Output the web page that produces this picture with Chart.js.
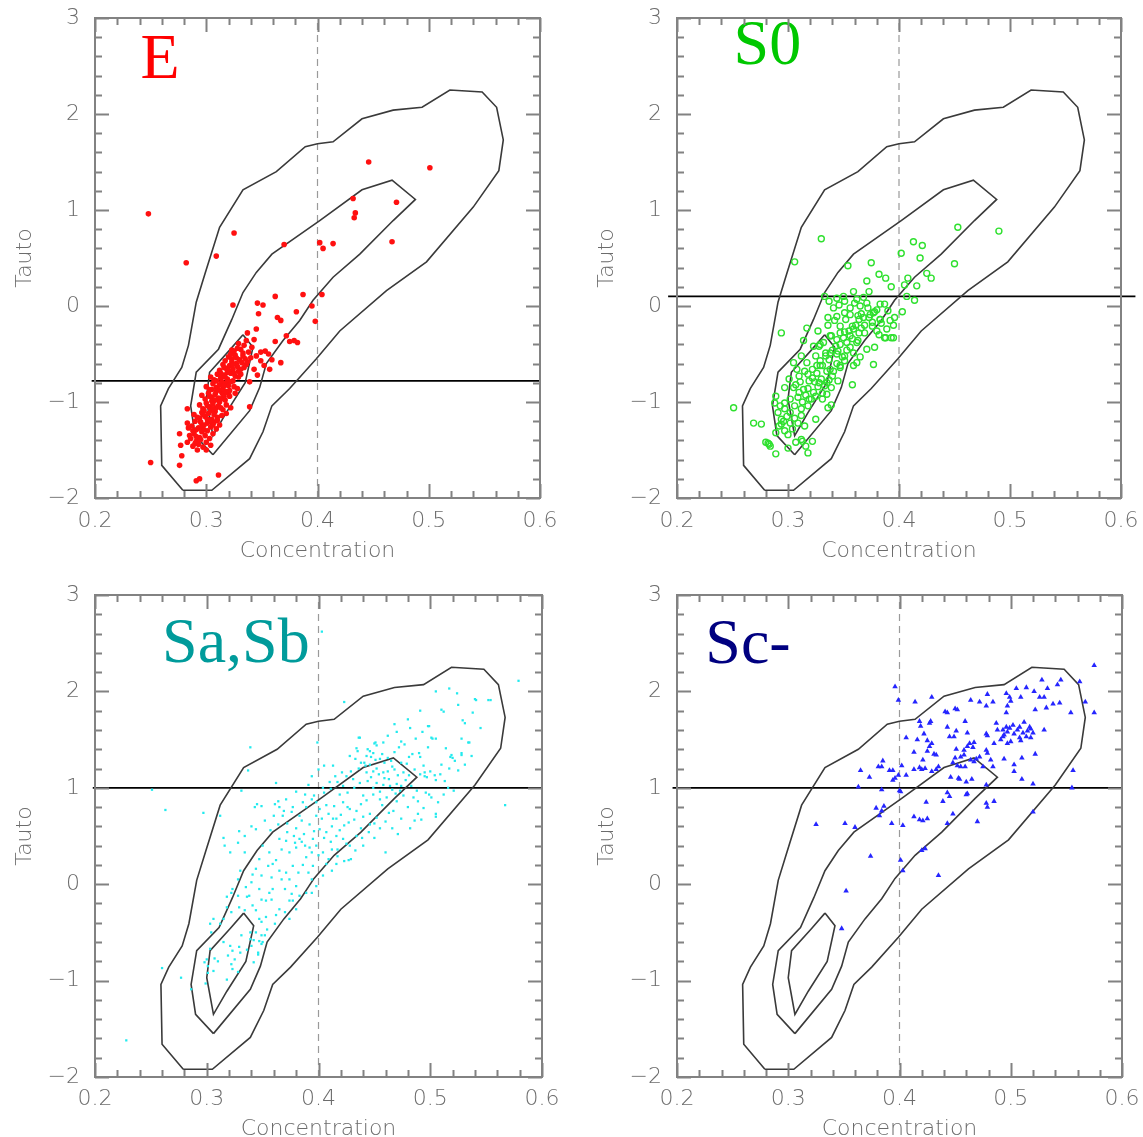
<!DOCTYPE html>
<html>
<head>
<meta charset="utf-8">
<script src="https://cdn.jsdelivr.net/npm/chart.js@4.4.1/dist/chart.umd.min.js"></script>
<style>
  html, body { margin: 0; padding: 0; background: #fff; }
  body { width: 1143px; height: 1137px; position: relative; overflow: hidden; }
  .panel { position: absolute; }
</style>
</head>
<body>
<div class="panel" style="left:0;top:0"><canvas id="pE"></canvas></div>
<div class="panel" style="left:570px;top:0"><canvas id="pS0"></canvas></div>
<div class="panel" style="left:0;top:570px"><canvas id="pSab"></canvas></div>
<div class="panel" style="left:570px;top:570px"><canvas id="pSc"></canvas></div>
<script>
'use strict';

// axis ticks (concentration / tauto)
const xTickValues = [0.2, 0.3, 0.4, 0.5, 0.6];
const yTickValues = [-2, -1, 0, 1, 2, 3];

// density contours of the whole sample, same in every panel
const contourOuter = [[0.279,-1.92],[0.305,-1.92],[0.339,-1.59],[0.351,-1.31],[0.359,-1.04],[0.375,-0.86],[0.399,-0.55],
  [0.420,-0.26],[0.462,0.16],[0.498,0.46],[0.540,1.03],[0.563,1.41],[0.567,1.73],[0.561,2.07],[0.548,2.23],[0.519,2.25],
  [0.494,2.07],[0.468,2.04],[0.440,1.95],[0.414,1.71],[0.400,1.69],[0.389,1.66],[0.363,1.40],[0.333,1.21],[0.312,0.82],
  [0.299,0.34],[0.291,0.04],[0.284,-0.41],[0.278,-0.64],[0.266,-0.86],[0.259,-1.04],[0.260,-1.66],[0.279,-1.92]];
const contourMiddle = [[0.306,-1.55],[0.290,-1.35],[0.286,-1.04],[0.291,-0.69],[0.311,-0.45],[0.323,-0.14],[0.333,0.14],
  [0.345,0.35],[0.359,0.54],[0.402,0.89],[0.440,1.21],[0.467,1.31],[0.488,1.11],[0.468,0.89],[0.438,0.54],[0.414,0.30],
  [0.396,0.06],[0.384,-0.15],[0.369,-0.36],[0.354,-0.60],[0.348,-0.85],[0.339,-1.09],[0.306,-1.55]];
const contourInner = [[0.333,-0.30],[0.342,-0.43],[0.335,-0.80],[0.318,-1.11],[0.306,-1.35],[0.300,-0.97],[0.303,-0.69],
  [0.321,-0.46],[0.333,-0.30]];

// panel names and the tauto cut drawn in each
const panelNames = ['E', 'S0', 'Sa,Sb', 'Sc-'];
const cutLevels = [-0.78, 0.10, 1.0, 1.0];
const cutSpans = [[0.197, 0.600], [0.192, 0.613], [0.198, 0.600], [0.196, 0.600]];

// galaxies, [concentration, tauto]
const ellipticals = [
  [0.248,0.96],[0.282,0.45],[0.309,0.52],[0.325,0.76],[0.446,1.50],[0.501,1.44],[0.432,1.12],[0.471,1.08],[0.434,0.97],
  [0.433,0.92],[0.370,0.64],[0.402,0.66],[0.405,0.60],[0.414,0.65],[0.467,0.67],[0.404,0.12],[0.387,0.12],[0.362,0.10],
  [0.324,0.01],[0.346,0.03],[0.351,0.01],[0.395,0.00],[0.381,-0.06],[0.347,-0.08],[0.364,-0.12],[0.367,-0.15],[0.398,-0.16],
  [0.345,-0.24],[0.337,-0.28],[0.343,-0.35],[0.362,-0.37],[0.372,-0.31],[0.375,-0.37],[0.379,-0.36],[0.382,-0.38],
  [0.356,-0.50],[0.359,-0.56],[0.349,-0.48],[0.323,-0.46],[0.367,-0.59],[0.339,-1.05],[0.283,-1.07],[0.276,-1.33],
  [0.277,-1.45],[0.278,-1.56],[0.276,-1.66],[0.250,-1.63],[0.291,-1.82],[0.294,-1.80],[0.311,-1.76],
  [0.288,-1.46],[0.293,-1.44],[0.297,-1.47],[0.291,-1.41],[0.300,-1.42],[0.286,-1.38],
  [0.294,-1.37],[0.299,-1.35],[0.289,-1.33],[0.303,-1.38],[0.296,-1.31],[0.306,-1.33],[0.291,-1.29],[0.301,-1.30],
  [0.287,-1.25],[0.293,-1.27],[0.298,-1.24],[0.304,-1.26],[0.309,-1.28],[0.295,-1.21],[0.301,-1.22],[0.307,-1.21],
  [0.290,-1.20],[0.312,-1.24],[0.294,-1.17],[0.299,-1.15],[0.305,-1.18],[0.310,-1.16],[0.289,-1.13],[0.296,-1.11],
  [0.302,-1.12],[0.308,-1.10],[0.314,-1.14],[0.292,-1.16],[0.297,-1.07],[0.303,-1.05],[0.309,-1.06],[0.315,-1.08],
  [0.300,-1.01],[0.306,-1.02],[0.312,-1.00],[0.318,-1.03],[0.294,-1.03],[0.304,-1.09],[0.299,-0.97],[0.305,-0.95],
  [0.311,-0.96],[0.317,-0.98],[0.321,-0.94],[0.302,-0.91],[0.308,-0.92],[0.314,-0.90],[0.296,-0.93],[0.320,-0.91],
  [0.303,-0.87],[0.309,-0.85],[0.315,-0.86],[0.321,-0.88],[0.325,-0.84],[0.306,-0.81],[0.312,-0.82],[0.318,-0.80],
  [0.300,-0.84],[0.328,-0.86],[0.307,-0.77],[0.313,-0.75],[0.319,-0.76],[0.324,-0.78],[0.329,-0.74],[0.310,-0.71],
  [0.316,-0.72],[0.322,-0.70],[0.331,-0.71],[0.304,-0.74],[0.312,-0.67],[0.318,-0.65],[0.324,-0.66],[0.329,-0.68],
  [0.334,-0.64],[0.315,-0.61],[0.321,-0.62],[0.327,-0.60],[0.336,-0.61],[0.317,-0.57],[0.323,-0.55],[0.330,-0.56],
  [0.337,-0.58],[0.326,-0.51],[0.333,-0.52],[0.320,-0.53],[0.340,-0.54],[0.325,-0.47],[0.331,-0.45],[0.338,-0.48],
  [0.334,-0.41],[0.329,-0.39],[0.341,-0.43],[0.336,-0.36],
  [0.291,-1.36],[0.296,-1.26],[0.307,-1.13],[0.301,-1.18],[0.311,-1.04],[0.305,-0.99],[0.316,-0.94],[0.309,-0.89],
  [0.320,-0.83],[0.314,-0.79],[0.326,-0.73],[0.319,-0.69],[0.331,-0.66],[0.323,-0.58],[0.335,-0.55],[0.328,-0.44],
  [0.298,-1.09],[0.313,-0.97],[0.306,-1.24],[0.288,-1.30],[0.285,-1.35],[0.283,-1.22],[0.343,-0.66],[0.346,-0.72],
  [0.339,-0.79],[0.326,-0.91],[0.322,-1.06],[0.318,-1.12],[0.292,-1.50],[0.300,-1.50],[0.304,-1.45],[0.283,-1.42],
  [0.352,-0.62],[0.357,-0.66],[0.349,-0.57],[0.345,-0.52],[0.353,-0.47],
  [0.295,-1.39],[0.298,-1.29],[0.303,-1.20],[0.297,-1.13],[0.310,-1.19],[0.306,-1.07],[0.313,-1.06],[0.301,-1.04],
  [0.308,-0.98],[0.303,-0.94],[0.315,-0.92],[0.311,-0.87],[0.318,-0.89],[0.305,-0.87],[0.316,-0.83],[0.322,-0.79],
  [0.309,-0.78],[0.317,-0.74],[0.325,-0.70],[0.313,-0.70],[0.320,-0.67],[0.328,-0.63],[0.316,-0.64],[0.324,-0.61],
  [0.332,-0.59],[0.327,-0.54],[0.333,-0.49],[0.322,-0.50],[0.290,-1.43],[0.284,-1.27]
];

const lenticulars = [
  [0.453,0.82],[0.490,0.78],[0.330,0.70],[0.306,0.46],[0.413,0.67],[0.421,0.63],[0.402,0.55],[0.419,0.50],[0.450,0.44],
  [0.375,0.45],[0.354,0.42],[0.382,0.33],[0.388,0.29],[0.371,0.26],[0.393,0.20],[0.408,0.29],[0.405,0.22],[0.416,0.21],
  [0.425,0.34],[0.429,0.29],[0.359,0.15],[0.373,0.15],[0.350,0.10],[0.351,0.05],[0.333,0.10],[0.337,0.05],[0.344,0.08],
  [0.414,0.06],[0.407,0.10],[0.403,-0.06],[0.360,0.03],[0.365,0.00],[0.371,0.03],[0.372,-0.02],[0.380,-0.04],[0.387,0.02],
  [0.341,-0.02],[0.336,-0.12],[0.351,-0.07],[0.356,-0.09],[0.363,-0.10],[0.368,-0.12],[0.374,-0.09],[0.383,-0.14],
  [0.384,-0.18],[0.392,-0.15],[0.396,-0.12],[0.344,-0.11],[0.317,-0.23],[0.327,-0.26],[0.347,-0.21],[0.351,-0.27],
  [0.359,-0.24],[0.366,-0.23],[0.369,-0.28],[0.376,-0.21],[0.380,-0.26],[0.294,-0.28],[0.388,-0.33],[0.395,-0.33],
  [0.378,-0.43],[0.314,-0.36],[0.323,-0.42],[0.329,-0.40],[0.339,-0.31],[0.344,-0.35],[0.353,-0.38],[0.356,-0.43],
  [0.363,-0.36],[0.338,-0.49],[0.344,-0.50],[0.351,-0.52],[0.359,-0.49],[0.362,-0.59],[0.312,-0.52],[0.317,-0.59],
  [0.305,-0.59],[0.308,-0.66],[0.325,-0.52],[0.329,-0.62],[0.338,-0.66],[0.347,-0.62],[0.359,-0.62],
  [0.269,-1.22],[0.276,-1.23],[0.282,-1.43],[0.284,-1.46],[0.289,-0.94],[0.288,-1.01],[0.294,-1.23],[0.291,-1.11],
  [0.297,-1.07],[0.289,-1.32],[0.318,-1.53],[0.297,-0.85],[0.301,-0.76],[0.305,-0.85],[0.310,-0.90],[0.302,-0.97],
  [0.306,-1.04],[0.302,-1.11],[0.312,-1.07],[0.318,-1.04],[0.325,-1.18],[0.294,-1.18],[0.297,-1.30],[0.319,-0.78],
  [0.322,-0.75],[0.328,-0.80],[0.331,-0.62],[0.335,-0.68],[0.340,-0.73],[0.335,-0.80],[0.339,-0.85],[0.345,-0.78],
  [0.347,-0.64],[0.351,-0.57],[0.325,-0.94],[0.331,-0.97],[0.335,-0.92],[0.314,-0.87],[0.310,-0.73],[0.319,-0.97],
  [0.328,-0.42],[0.334,-0.49],[0.343,-0.42],[0.338,-0.31],[0.332,-0.38],[0.347,-0.28],[0.352,-0.14],[0.358,-0.21],
  [0.364,-0.14],[0.356,-0.31],[0.362,-0.38],[0.377,-0.07],[0.383,-0.14],[0.387,-0.33],[0.393,-0.33],[0.316,-1.46],
  [0.312,-1.39],[0.326,-0.62],[0.315,-0.68],[0.297,-1.01],[0.293,-1.04],
  [0.251,-1.06],[0.280,-1.42],[0.283,-1.44],[0.377,-0.61],[0.358,-0.82],[0.336,-1.06],[0.339,-1.03],[0.331,-0.91],
  [0.322,-1.41],[0.313,-1.41],[0.307,-1.42],[0.300,-1.48],[0.289,-1.54],
  [0.318,-0.86],[0.323,-0.90],[0.327,-0.84],[0.316,-0.93],[0.321,-0.97],[0.313,-1.00],[0.309,-0.95],[0.324,-0.79],
  [0.330,-0.76],[0.333,-0.83],[0.337,-0.77],[0.326,-0.70],[0.341,-0.68],[0.344,-0.60],[0.337,-0.56],[0.349,-0.53],
  [0.353,-0.46],[0.347,-0.40],[0.358,-0.34],[0.364,-0.28],[0.369,-0.20],[0.373,-0.12],[0.378,-0.06],[0.312,-1.14],
  [0.306,-1.17],[0.302,-1.22],[0.299,-1.15],[0.309,-1.22],[0.315,-1.25],[0.296,-1.20],[0.304,-1.28],[0.300,-1.34],
  [0.292,-1.25],[0.307,-0.82],[0.311,-0.79],[0.318,-0.71],[0.322,-0.66],[0.329,-0.57],[0.334,-0.52],[0.340,-0.46],
  [0.345,-0.47],[0.350,-0.33],[0.355,-0.26],[0.361,-0.20],[0.366,-0.08],[0.356,-0.02],[0.346,0.01],[0.362,0.07],
  [0.342,-0.15],[0.336,-0.20],[0.368,0.09],[0.383,0.02],[0.390,-0.05],[0.389,-0.24],[0.395,-0.20],[0.376,-0.17],
  [0.382,-0.30],[0.371,-0.45],[0.365,-0.53]
];

const earlySpirals = [
  [0.579,2.11],[0.505,2.00],[0.517,2.03],[0.524,1.98],[0.540,1.92],[0.552,1.91],[0.423,1.89],[0.510,1.81],[0.512,1.79],
  [0.529,1.70],[0.498,1.64],[0.436,1.52],[0.462,1.54],[0.474,1.48],[0.501,1.52],[0.505,1.51],[0.528,1.51],[0.535,1.47],
  [0.450,1.46],[0.452,1.44],[0.446,1.38],[0.449,1.36],[0.443,1.33],[0.447,1.32],[0.433,1.30],[0.438,1.26],[0.413,1.23],
  [0.481,1.32],[0.490,1.36],[0.491,1.32],[0.498,1.42],[0.519,1.34],[0.520,1.31],[0.528,1.36],[0.455,1.30],[0.459,1.26],
  [0.465,1.28],[0.474,1.26],[0.476,1.16],[0.468,1.19],[0.471,1.13],[0.495,1.16],[0.497,1.11],[0.504,1.13],[0.454,1.14],
  [0.459,1.10],[0.443,1.16],[0.447,1.11],[0.452,1.05],[0.431,1.09],[0.437,1.05],[0.432,1.00],[0.422,1.02],[0.419,0.93],
  [0.426,0.95],[0.483,1.02],[0.488,0.97],[0.485,0.90],[0.470,1.04],[0.474,1.02],[0.440,0.92],[0.443,0.87],[0.438,0.83],
  [0.449,0.93],[0.455,0.88],[0.414,0.81],[0.422,0.85],[0.428,0.78],[0.434,0.76],[0.440,0.70],[0.432,0.67],[0.416,0.68],
  [0.423,0.61],[0.419,0.56],[0.446,0.73],[0.450,0.63],[0.467,0.76],[0.474,0.68],[0.486,0.66],[0.489,0.73],[0.505,0.73],
  [0.567,0.82],[0.494,1.23],[0.500,1.17],[0.491,1.14],[0.509,1.14],[0.513,1.07],[0.516,1.00],[0.496,0.95],[0.501,0.90],
  [0.507,0.85],[0.522,1.28],[0.525,1.18],
  [0.339,1.42],[0.337,1.18],[0.362,1.05],[0.331,0.97],[0.297,0.74],[0.312,0.71],[0.399,1.47],[0.400,1.19],[0.405,1.23],
  [0.394,1.12],[0.437,1.52],[0.435,1.38],[0.444,1.40],[0.451,1.47],[0.441,1.26],[0.345,0.83],[0.349,0.81],[0.343,0.80],
  [0.361,0.83],[0.365,0.80],[0.364,0.86],[0.388,0.93],[0.394,0.88],[0.389,0.80],[0.398,0.85],[0.401,0.78],[0.407,0.82],
  [0.398,0.71],[0.403,0.68],[0.409,0.73],[0.413,0.68],[0.426,0.80],[0.329,0.55],[0.334,0.50],[0.328,0.43],[0.340,0.60],
  [0.344,0.57],[0.321,0.33],[0.334,0.33],[0.350,0.40],[0.356,0.33],[0.347,0.26],[0.365,0.47],[0.371,0.45],[0.379,0.43],
  [0.383,0.47],[0.367,0.36],[0.374,0.33],[0.380,0.38],[0.388,0.40],[0.394,0.33],[0.389,0.28],[0.401,0.57],[0.407,0.54],
  [0.412,0.60],[0.416,0.50],[0.422,0.47],[0.428,0.40],[0.434,0.50],[0.398,0.40],[0.404,0.33],[0.412,0.36],[0.423,0.24],
  [0.429,0.26],[0.416,0.21],[0.407,0.21],[0.412,0.14],[0.404,0.09],[0.395,0.19],[0.391,0.12],[0.394,0.05],[0.398,-0.02],
  [0.394,-0.09],[0.377,0.19],[0.382,0.12],[0.374,0.05],[0.380,-0.02],[0.359,0.21],[0.365,0.14],[0.358,0.07],[0.367,0.05],
  [0.344,0.16],[0.349,0.09],[0.340,0.02],[0.347,-0.05],[0.330,0.14],[0.328,0.05],[0.322,-0.09],[0.328,-0.12],[0.356,-0.09],
  [0.349,-0.16],[0.353,-0.17],[0.358,-0.16],[0.370,-0.05],[0.376,-0.10],[0.374,-0.17],[0.338,-0.12],[0.341,-0.22],
  [0.334,-0.27],[0.347,-0.36],[0.353,-0.34],[0.362,-0.32],[0.361,-0.41],[0.377,-0.17],[0.380,-0.26],[0.318,-0.24],
  [0.322,-0.29],[0.315,-0.36],[0.344,-0.50],[0.349,-0.53],[0.350,-0.60],[0.340,-0.64],[0.346,-0.71],[0.342,-0.81],
  [0.306,-0.36],[0.312,-0.41],[0.304,-0.50],[0.300,-0.78],[0.301,-0.85],[0.306,-0.90],[0.319,-0.74],[0.322,-0.83],
  [0.328,-0.91],[0.315,-0.60],[0.321,-0.64],[0.325,-0.78],[0.330,-0.71],[0.336,-0.68],[0.339,-0.57],[0.331,-0.53],
  [0.347,-0.59],[0.352,-0.53],[0.365,-0.26],[0.370,-0.29],[0.374,-0.36],[0.389,-0.09],[0.383,-0.12],
  [0.403,2.62],[0.228,-1.62],[0.251,0.98],[0.263,0.77],[0.260,-0.87],[0.277,-0.97],[0.286,-1.09],[0.299,-1.03],
  [0.301,-0.92],[0.315,0.48],[0.316,0.40],[0.303,-0.41],[0.318,-0.13],[0.323,-0.69],[0.329,-0.65],[0.342,-0.58],
  [0.349,-0.62],[0.346,-0.73],[0.339,-0.50],[0.323,-0.88],[0.318,-0.99],[0.310,-0.80],[0.303,-0.67],[0.307,-0.77],
  [0.349,-0.39],[0.354,-0.47],[0.329,-0.24],[0.336,-0.13],[0.323,-0.05],[0.531,1.67],[0.534,1.47],[0.528,1.34],
  [0.518,1.32],[0.502,1.51],[0.499,1.64],[0.554,1.91],[0.541,1.91],[0.505,1.08],[0.495,1.12],[0.499,0.93],[0.489,0.86],
  [0.492,0.67],[0.505,0.70],[0.460,0.33],[0.450,0.48],[0.440,0.40],[0.427,0.25],[0.417,0.29],[0.298,-0.81],
  [0.392,0.62],[0.396,0.55],[0.385,0.66],[0.380,0.58],[0.372,0.63],[0.368,0.71],[0.376,0.75],[0.383,0.71],[0.405,0.95],
  [0.411,0.99],[0.417,1.06],[0.425,1.12],[0.429,1.17],[0.436,1.20],[0.442,1.23],[0.452,1.20],[0.458,1.16],[0.463,1.09],
  [0.466,0.98],[0.461,0.90],[0.457,0.82],[0.463,0.74],[0.470,0.86],[0.476,0.92],[0.480,0.80],[0.455,0.58],[0.445,0.54],
  [0.438,0.58],[0.427,0.64],[0.420,0.72],[0.411,0.44],[0.405,0.48],[0.395,0.47],[0.387,0.52],[0.357,0.56],[0.352,0.66],
  [0.360,0.71],[0.371,0.88],[0.380,0.96],[0.391,1.03],
  [0.446,1.24],[0.451,1.29],[0.457,1.35],[0.462,1.31],[0.468,1.37],[0.472,1.42],[0.466,1.22],[0.462,1.17],[0.449,1.17],
  [0.444,1.07],[0.449,1.00],[0.455,0.96],[0.458,1.03],[0.464,1.02],[0.469,0.94],[0.473,0.97],[0.478,1.08],[0.481,1.13],
  [0.486,1.19],[0.479,1.25],[0.484,1.35],[0.477,1.45],[0.487,1.51],[0.493,1.58],[0.482,1.62],[0.470,1.58],[0.514,1.41],
  [0.510,1.24],[0.517,1.20],[0.531,1.24],[0.537,1.33],[0.545,1.62],[0.538,1.78],[0.525,1.86],[0.491,1.80],[0.480,1.71],
  [0.468,1.66],[0.458,1.47],[0.434,1.41],[0.428,1.33],[0.421,1.16],[0.415,1.12],[0.410,1.06],[0.404,1.00],[0.396,0.92],
  [0.386,0.85],[0.377,0.80],[0.369,0.76],[0.364,0.62],[0.372,0.54],[0.378,0.50],[0.385,0.44],[0.392,0.38],[0.400,0.30],
  [0.409,0.26],[0.417,0.36],[0.425,0.42],[0.433,0.35],[0.439,0.48],[0.446,0.62],[0.452,0.69],[0.460,0.65],[0.466,0.58],
  [0.471,0.52],[0.482,0.58],[0.494,0.79],[0.512,0.93],[0.521,0.97],[0.362,0.25],[0.355,0.19],[0.341,0.10],[0.335,-0.03],
  [0.344,-0.27],[0.359,-0.05],[0.386,0.20],[0.371,0.12]
];

const lateSpirals = [
  [0.575,2.27],[0.396,2.05],[0.399,1.91],[0.414,1.89],[0.429,1.94],[0.441,1.79],[0.443,1.78],[0.450,1.82],[0.452,1.81],
  [0.464,1.91],[0.472,1.89],[0.479,1.97],[0.484,1.89],[0.478,1.85],[0.496,1.98],[0.499,1.94],[0.505,2.03],[0.509,1.94],
  [0.514,2.04],[0.521,2.00],[0.526,1.94],[0.528,2.12],[0.533,2.03],[0.542,2.07],[0.545,2.12],[0.530,1.94],[0.538,1.87],
  [0.544,1.88],[0.562,2.10],[0.567,1.89],[0.575,1.78],[0.554,1.78],[0.427,1.67],[0.428,1.69],[0.418,1.69],[0.419,1.64],
  [0.406,1.52],[0.416,1.50],[0.422,1.56],[0.425,1.49],[0.427,1.43],[0.429,1.46],[0.425,1.38],[0.413,1.37],[0.421,1.29],
  [0.431,1.35],[0.433,1.34],[0.443,1.63],[0.445,1.53],[0.451,1.59],[0.461,1.57],[0.459,1.69],[0.449,1.53],[0.461,1.43],
  [0.458,1.39],[0.451,1.40],[0.463,1.46],[0.467,1.47],[0.478,1.56],[0.479,1.54],[0.487,1.67],[0.493,1.60],[0.496,1.63],
  [0.485,1.46],[0.491,1.50],[0.493,1.53],[0.497,1.46],[0.500,1.48],[0.502,1.65],[0.508,1.63],[0.512,1.68],[0.517,1.63],
  [0.518,1.61],[0.509,1.49],[0.514,1.53],[0.518,1.52],[0.496,1.78],[0.497,1.85],[0.500,1.90],[0.522,1.81],[0.530,1.60],
  [0.532,1.83],[0.522,1.35],[0.510,1.31],[0.503,1.24],[0.494,1.30],[0.478,1.39],[0.479,1.36],[0.466,1.42],[0.464,1.29],
  [0.469,1.30],[0.472,1.32],[0.459,1.22],[0.467,1.27],[0.475,1.22],[0.482,1.29],[0.484,1.22],[0.503,1.17],[0.510,1.09],
  [0.520,1.04],[0.556,1.18],[0.555,1.00],[0.450,1.31],[0.455,1.32],[0.458,1.34],[0.452,1.23],[0.455,1.22],[0.448,1.26],
  [0.446,1.11],[0.453,1.10],[0.454,1.09],[0.460,1.06],[0.465,1.09],[0.478,1.03],[0.435,1.22],[0.433,1.19],[0.429,1.17],
  [0.423,1.20],[0.418,1.21],[0.420,1.19],[0.413,1.19],[0.406,1.13],[0.402,1.23],[0.399,1.13],[0.394,1.18],[0.394,1.08],
  [0.396,1.10],[0.391,1.18],[0.385,1.28],[0.384,1.22],[0.381,1.22],[0.373,1.11],[0.365,1.18],[0.363,1.01],[0.384,0.98],
  [0.400,0.97],[0.401,0.96],[0.379,0.79],[0.384,0.76],[0.382,0.71],[0.386,0.81],[0.351,0.63],[0.360,0.59],[0.393,0.63],
  [0.403,0.61],[0.413,0.70],[0.418,0.67],[0.421,0.66],[0.425,0.68],[0.424,0.85],[0.439,0.86],[0.443,0.95],[0.445,0.91],
  [0.460,0.93],[0.461,0.94],[0.448,0.73],[0.443,0.63],[0.470,0.65],[0.478,0.84],[0.485,0.86],[0.479,0.80],[0.520,0.75],
  [0.374,0.29],[0.401,0.25],[0.403,0.14],[0.420,0.35],[0.423,0.37],[0.435,0.09],[0.325,0.62],[0.352,-0.07],[0.348,-0.46],
  [0.497,1.58],[0.503,1.56],[0.506,1.60],[0.511,1.57],[0.499,1.62],[0.508,1.52],[0.515,1.59],[0.494,1.55],[0.488,1.60],
  [0.520,1.57]
];

const toXY = arr => arr.map(p => ({x: p[0], y: p[1]}));

const greyText = '#6c6c6c';
const frameGrey = '#828282';

// boxed frame with inward ticks on all four sides
const frameTicks = {
  id: 'frameTicks',
  afterDraw(chart) {
    const {ctx, chartArea: a, scales: {x, y}} = chart;
    ctx.save();
    ctx.strokeStyle = frameGrey;
    ctx.lineWidth = 2;
    ctx.strokeRect(a.left, a.top, a.right - a.left, a.bottom - a.top);
    ctx.beginPath();
    for (let i = 0; i <= 20; i++) {
      const px = Math.round(x.getPixelForValue(x.min + i * 0.02)) + 0.5;
      const len = i % 5 === 0 ? 14 : 7;
      ctx.moveTo(px, a.bottom); ctx.lineTo(px, a.bottom - len);
      ctx.moveTo(px, a.top); ctx.lineTo(px, a.top + len);
    }
    for (let i = 0; i <= 25; i++) {
      const py = Math.round(y.getPixelForValue(y.min + i * 0.2)) + 0.5;
      const len = i % 5 === 0 ? 14 : 7;
      ctx.moveTo(a.left, py); ctx.lineTo(a.left + len, py);
      ctx.moveTo(a.right, py); ctx.lineTo(a.right - len, py);
    }
    ctx.stroke();
    ctx.restore();
  }
};

// morphological class written inside the plot
const panelLabel = {
  id: 'panelLabel',
  afterDatasetsDraw(chart, args, opts) {
    const {ctx, scales: {x, y}} = chart;
    ctx.save();
    ctx.font = '64px "Liberation Serif", "Times New Roman", serif';
    ctx.fillStyle = opts.color;
    ctx.textBaseline = 'alphabetic';
    ctx.fillText(opts.text, x.getPixelForValue(opts.x), y.getPixelForValue(opts.y));
    ctx.restore();
  }
};

const panels = [
  {id: 'pE', w: 570, h: 570, area: {left: 95, right: 540, top: 18, bottom: 498}, xPad: 10, titleBottom: 8, yTitle: 25,
   points: ellipticals, label: {x: 0.241, y: 2.37, color: '#ff0000'},
   point: {pointStyle: 'circle', pointRadius: 2.8, backgroundColor: '#ff1010', borderWidth: 0}},
  {id: 'pS0', w: 573, h: 570, area: {left: 107, right: 551, top: 18, bottom: 498}, xPad: 10, titleBottom: 8, yTitle: 37,
   points: lenticulars, label: {x: 0.251, y: 2.52, color: '#00c800'},
   point: {pointStyle: 'circle', pointRadius: 3, backgroundColor: 'rgba(0,0,0,0)', borderColor: '#2ee02e', borderWidth: 1.4}},
  {id: 'pSab', w: 570, h: 567, area: {left: 95, right: 542, top: 25, bottom: 507}, xPad: 9, titleBottom: -3, yTitle: 25,
   points: earlySpirals, label: {x: 0.260, y: 2.30, color: '#009b9b'},
   point: {pointStyle: 'rect', pointRadius: 1.6, backgroundColor: '#22eaee', borderWidth: 0}},
  {id: 'pSc', w: 573, h: 567, area: {left: 107, right: 552, top: 25, bottom: 507}, xPad: 9, titleBottom: -3, yTitle: 37,
   points: lateSpirals, label: {x: 0.2255, y: 2.29, color: '#000080'},
   point: {pointStyle: 'triangle', pointRadius: 3.2, backgroundColor: '#2525ff', borderWidth: 0}}
];

const line = (data, color, width, extra) => Object.assign({
  data: toXY(data), showLine: true, fill: false, borderColor: color, borderWidth: width,
  pointRadius: 0, tension: 0
}, extra || {});

panels.forEach((p, i) => {
  const canvas = document.getElementById(p.id);
  canvas.width = p.w;
  canvas.height = p.h;
  const cut = cutLevels[i];
  const span = cutSpans[i];

  new Chart(canvas, {
    type: 'scatter',
    data: {
      datasets: [
        Object.assign({data: toXY(p.points)}, p.point),
        line(contourOuter, '#3a3a3a', 1.6),
        line(contourMiddle, '#3a3a3a', 1.6),
        line(contourInner, '#3a3a3a', 1.6),
        line([[span[0], cut], [span[1], cut]], '#000000', 1.8, {clip: false}),
        line([[0.4, -2], [0.4, 3]], '#9a9a9a', 1.2, {borderDash: [7, 5]})
      ]
    },
    options: {
      responsive: false,
      animation: false,
      events: [],
      layout: {padding: {left: 0, top: p.area.top, right: p.w - p.area.right, bottom: 0}},
      plugins: {
        legend: {display: false},
        tooltip: {enabled: false},
        panelLabel: Object.assign({text: panelNames[i]}, p.label)
      },
      scales: {
        x: {
          type: 'linear', min: 0.2, max: 0.6,
          afterBuildTicks: s => { s.ticks = xTickValues.map(v => ({value: v})); },
          afterFit: s => { s.height = p.h - p.area.bottom; s.paddingLeft = 0; s.paddingRight = 0; },
          grid: {display: false, drawTicks: false},
          border: {display: false},
          ticks: {
            padding: p.xPad, color: greyText, maxRotation: 0,
            font: {family: 'DejaVu Sans', size: 22, weight: '200'},
            callback: v => v.toFixed(1)
          },
          title: {
            display: true, text: 'Concentration', color: greyText,
            font: {family: 'DejaVu Sans', size: 22, weight: '200', lineHeight: 1},
            padding: {top: 0, bottom: p.titleBottom}
          }
        },
        y: {
          type: 'linear', min: -2, max: 3,
          afterBuildTicks: s => { s.ticks = yTickValues.map(v => ({value: v})); },
          afterFit: s => { s.width = p.area.left; s.paddingTop = 0; s.paddingBottom = 0; },
          grid: {display: false, drawTicks: false},
          border: {display: false},
          ticks: {
            padding: 15, color: greyText,
            font: {family: 'DejaVu Sans', size: 22, weight: '200'},
            callback: v => (v < 0 ? '\u2212' + Math.abs(v) : String(v))
          },
          title: {
            display: true, text: 'Tauto', color: greyText,
            font: {family: 'DejaVu Sans', size: 22, weight: '200', lineHeight: 1},
            padding: {top: p.yTitle - 11, bottom: 0}
          }
        }
      }
    },
    plugins: [frameTicks, panelLabel]
  });
});
</script>
</body>
</html>
